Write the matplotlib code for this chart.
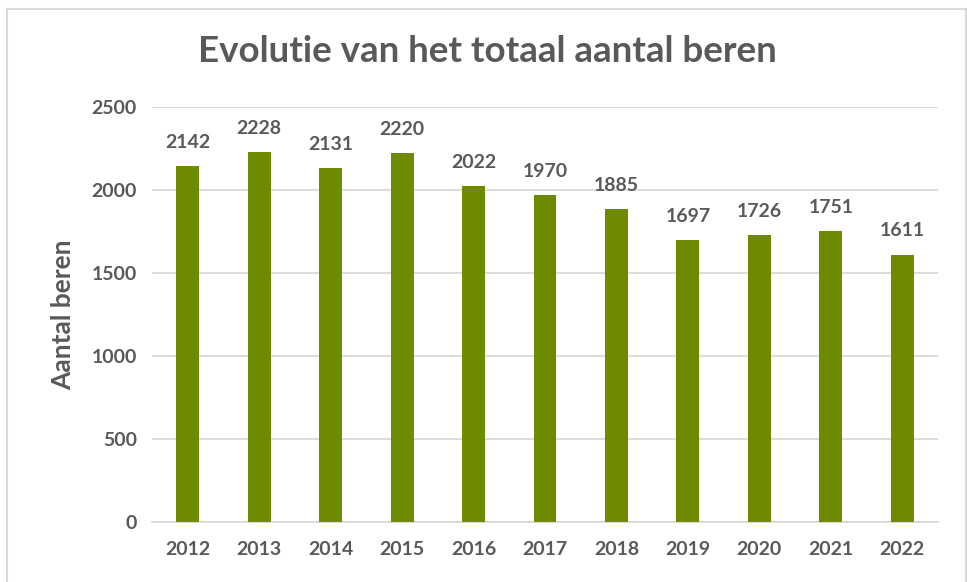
import matplotlib
matplotlib.use("Agg")
import matplotlib.pyplot as plt
from matplotlib.patches import Rectangle

years = ["2012", "2013", "2014", "2015", "2016", "2017", "2018", "2019", "2020", "2021", "2022"]
bears = [2142, 2228, 2131, 2220, 2022, 1970, 1885, 1697, 1726, 1751, 1611]
yticks = [0, 500, 1000, 1500, 2000, 2500]

title = "Evolutie van het totaal aantal beren"
ylabel = "Aantal beren"

txt = "#595959"
bar_color = "#6E8B00"
plt.rcParams['font.family'] = ['Lato', 'DejaVu Sans']

fig = plt.figure(figsize=(9.67, 5.82), dpi=100)
# outer chart frame
fig.patches.append(Rectangle((7/967, -0.01), (966-7)/967, 1 - 9/582 + 0.01,
                             transform=fig.transFigure, fill=False,
                             edgecolor="#D9D9D9", linewidth=1.5))

ax = fig.add_axes([152/967, 1-522/582, (938-152)/967, (522-107)/582])
x = range(len(years))
bars = ax.bar(x, bears, width=0.32, color=bar_color, zorder=3)
ax.set_ylim(0, 2500)
ax.set_xlim(-0.5, len(years)-0.5)
ax.set_yticks(yticks)
ax.set_xticks(list(x))
ax.set_xticklabels(years)
ax.grid(axis="y", color="#D9D9D9", linewidth=1.3, zorder=0)
for s in ["top", "right", "left"]:
    ax.spines[s].set_visible(False)
ax.spines["bottom"].set_color("#D9D9D9")
ax.spines["bottom"].set_linewidth(1.3)
ax.tick_params(axis="both", length=0, labelsize=14, colors=txt)
ax.tick_params(axis="x", pad=14)
ax.tick_params(axis="y", pad=11)
for lab in ax.get_xticklabels() + ax.get_yticklabels():
    lab.set_fontweight("bold")

for b, v in zip(bars, bears):
    ax.annotate(str(v), (b.get_x() + b.get_width()/2, v), xytext=(0, 11),
                textcoords="offset points", ha="center", va="bottom",
                fontsize=14, fontweight="bold", color=txt)

ax.set_ylabel(ylabel, fontsize=19, color=txt, fontweight="bold", labelpad=12)
fig.text(487/967, 1-52/582, title, ha="center", va="center", fontsize=26.5,
         color=txt, fontweight="bold")

fig.savefig("out.png", dpi=100)
